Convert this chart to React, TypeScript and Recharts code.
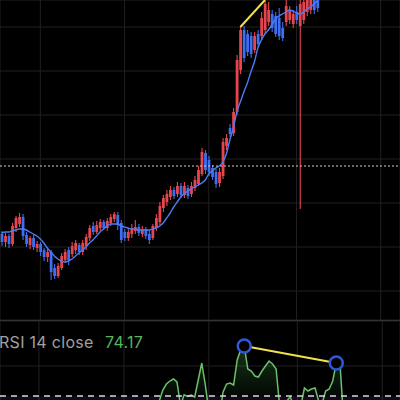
import React from "react"
import {
  ComposedChart, Bar, Line, Area, XAxis, YAxis, CartesianGrid,
  ReferenceLine, ReferenceDot, ReferenceArea,
} from "recharts"

// candle slots across the screen (visible candles + empty space on the right)
const SLOTS = 114

const OPEN = [
  86, 78, 84, 76, 92, 96, 103, 85, 75, 82,
  72, 76, 70, 63, 68, 52, 44, 52, 60, 70,
  66, 70, 75, 68, 74, 82, 94, 88, 92, 98,
  92, 97, 101, 105, 97, 88, 82, 86, 89, 93,
  86, 91, 86, 82, 92, 98, 112, 118, 123, 130,
  126, 134, 125, 132, 126, 132, 136, 146, 167, 160,
  152, 148, 137, 144, 174, 192, 187, 208, 250, 290,
  286, 284, 270, 286, 284, 290, 298, 306, 304, 302,
  292, 298, 300, 296, 308, 294, 300, 308, 310, 324,
  322,
]
const CLOSE = [
  78, 84, 76, 94, 102, 103, 84, 76, 82, 73,
  76, 68, 63, 68, 48, 44, 54, 64, 68, 60,
  74, 77, 68, 77, 83, 92, 88, 95, 98, 92,
  99, 103, 106, 95, 80, 82, 88, 92, 93, 87,
  91, 84, 80, 94, 102, 114, 122, 126, 130, 124,
  134, 125, 134, 124, 134, 140, 150, 168, 150, 148,
  143, 136, 148, 178, 182, 186, 208, 260, 290, 262,
  268, 266, 284, 276, 302, 316, 310, 292, 286, 284,
  282, 314, 310, 306, 300, 316, 318, 322, 324, 310,
  312,
]
const HIGH = [
  89, 87, 86, 97, 104, 107, 106, 88, 84, 85,
  79, 78, 72, 71, 70, 56, 57, 67, 71, 73,
  78, 80, 77, 80, 86, 95, 98, 99, 101, 100,
  102, 106, 108, 108, 100, 91, 92, 96, 100, 96,
  94, 93, 90, 96, 106, 118, 125, 130, 134, 133,
  138, 137, 138, 135, 138, 144, 154, 172, 170, 164,
  155, 151, 152, 182, 186, 196, 212, 265, 294, 294,
  290, 288, 288, 290, 308, 324, 318, 310, 308, 312,
  298, 320, 314, 310, 314, 324, 326, 328, 330, 328,
  326,
]
const LOW = [
  74, 73, 72, 74, 88, 93, 80, 73, 71, 70,
  68, 64, 59, 58, 40, 41, 42, 50, 57, 55,
  63, 66, 65, 65, 70, 79, 85, 86, 89, 90,
  89, 94, 98, 90, 77, 79, 79, 82, 86, 84,
  83, 81, 76, 80, 89, 95, 108, 114, 120, 121,
  123, 122, 122, 121, 123, 129, 134, 144, 146, 144,
  140, 132, 133, 141, 170, 183, 184, 205, 246, 258,
  264, 262, 267, 273, 280, 286, 294, 288, 283, 280,
  279, 294, 296, 292, 296, 111, 296, 304, 306, 306,
  308,
]
const MA = [
  87, 88, 88, 89, 90, 91, 91, 90, 88, 86,
  84, 81, 77, 72, 68, 64, 61, 59, 58, 59,
  61, 64, 67, 70, 73, 77, 80, 84, 88, 91,
  94, 96, 96, 96, 94, 93, 92, 91, 91, 90,
  90, 90, 90, 91, 92, 94, 97, 102, 107, 113,
  118, 123, 126, 129, 131, 133, 135, 137, 140, 146,
  149, 152, 154, 158, 166, 180, 192, 208, 218, 228,
  237, 248, 258, 272, 280, 286, 290, 295, 301, 304,
  306, 308, 310, 309, 307, 306, 308, 311, 313, 316,
  319,
]
const RSI = [
  55, 57, 54, 62, 66, 67, 58, 54, 56, 50,
  52, 47, 44, 47, 36, 34, 39, 45, 48, 44,
  51, 53, 48, 53, 56, 60, 57, 61, 63, 58,
  62, 64, 66, 57, 48, 49, 53, 56, 57, 53,
  56, 51, 49, 58, 63, 68, 72.4, 74.8, 76, 76.8,
  75.6, 66, 70.5, 69.8, 70.4, 69.6, 76.4, 83.2, 74.4, 64,
  60, 56, 62, 71.5, 74.8, 75.2, 74.4, 84.4, 88.4, 90,
  80.8, 80, 78, 77.6, 80, 82, 84, 82.8, 80.8, 66,
  62, 68, 69.6, 66, 64, 66, 73.2, 72, 72.8, 73.2,
  68, 67, 72, 72.8, 76, 83.2, 84, 62,
]

const PRICE_GRID = [29, 73, 117, 161, 205, 249, 293]
const TIME_GRID = [11, 35, 59, 84, 108]
const RSI_GRID = [82]
const LAST_PRICE = 154
const TREND_PRICE = [{ x: 68, y: 293 }, { x: 75, y: 320 }]
const RSI_PEAKS = [{ x: 69, y: 90 }, { x: 95, y: 83.2 }]
const RSI_LAST = "74.17"

const RED = "#e8464f"
const BLUE = "#3f6ff0"
const GRID = "#202020"

const priceData = Array.from({ length: SLOTS }, (_, i) => ({
  i,
  o: OPEN[i] ?? null,
  c: CLOSE[i] ?? null,
  h: HIGH[i] ?? null,
  l: LOW[i] ?? null,
  ma: MA[i] ?? null,
}))

const rsiData = Array.from({ length: SLOTS }, (_, i) => ({
  i,
  rsi: RSI[i] ?? null,
}))

function Candle(props: any) {
  const { x, y, width, height, payload } = props
  if (!payload || payload.h == null) return <g />
  const top = Math.min(y, y + height)
  const span = Math.abs(height)
  const k = span / (payload.h - payload.l || 1)
  const color = payload.c >= payload.o ? RED : BLUE
  const cx = x + width / 2
  const bTop = top + (payload.h - Math.max(payload.o, payload.c)) * k
  const bH = Math.max(1, Math.abs(payload.o - payload.c) * k)
  return (
    <g>
      <line x1={cx} x2={cx} y1={top} y2={top + span} stroke={color} strokeWidth={1.1} />
      <rect x={cx - 1.4} y={bTop} width={2.8} height={bH} fill={color} />
    </g>
  )
}

const labelStyle = {
  position: "absolute" as const,
  top: 334,
  fontFamily: "Inter",
  fontSize: 16,
  lineHeight: "16px",
  letterSpacing: 0.3,
  whiteSpace: "nowrap" as const,
}

export default function App() {
  return (
    <div style={{ position: "fixed", left: 0, top: 0, width: 400, height: 400, overflow: "hidden", background: "#000" }}>
      <ComposedChart
        width={400} height={320} data={priceData}
        margin={{ top: 0, right: 0, bottom: 0, left: 0 }}
        barCategoryGap={0} barGap={0}
      >
        <CartesianGrid stroke={GRID} />
        <XAxis dataKey="i" hide ticks={TIME_GRID} />
        <YAxis hide domain={[0, 320]} allowDataOverflow ticks={PRICE_GRID} />
        <Bar
          dataKey={(d: any) => (d.h == null ? null : [d.l, d.h])}
          shape={<Candle />}
          activeBar={false}
          isAnimationActive={false}
        />
        <Line type="monotone" dataKey="ma" stroke="#4a7df5" strokeWidth={1.4} dot={false} activeDot={false} isAnimationActive={false} />
        <ReferenceLine y={LAST_PRICE} stroke="#d0d0d0" strokeDasharray="2 2" strokeWidth={1} />
        <ReferenceLine segment={TREND_PRICE} stroke="#f2e14c" strokeWidth={2} />
      </ComposedChart>

      <div style={{ position: "absolute", left: 0, top: 320, width: 400, height: 1, background: "#333" }} />

      <div style={{ position: "absolute", left: 0, top: 321 }}>
        <ComposedChart
          width={400} height={250} data={rsiData}
          margin={{ top: 0, right: 0, bottom: 0, left: 0 }}
        >
          <defs>
            <linearGradient id="rsiFill" x1="0" y1="0" x2="0" y2="1">
              <stop offset="0%" stopColor="#4caf50" stopOpacity={0.5} />
              <stop offset="100%" stopColor="#4caf50" stopOpacity={0.08} />
            </linearGradient>
          </defs>
          <CartesianGrid stroke={GRID} />
          <XAxis dataKey="i" hide ticks={TIME_GRID} />
          <YAxis hide domain={[0, 100]} ticks={RSI_GRID} />
          <ReferenceArea y1={30} y2={70} fill="#7e57c2" fillOpacity={0.12} />
          <Area
            type="linear"
            dataKey={(d: any) => (d.rsi == null ? null : [70, Math.max(d.rsi, 70)])}
            stroke="none" fill="url(#rsiFill)" activeDot={false} isAnimationActive={false}
          />
          <Line type="linear" dataKey="rsi" stroke="#6cc06c" strokeWidth={1.5} dot={false} activeDot={false} isAnimationActive={false} />
          <ReferenceLine y={70} stroke="#d8d8d8" strokeDasharray="6 5" strokeWidth={1.5} />
          <ReferenceLine segment={RSI_PEAKS} stroke="#f2e14c" strokeWidth={2} />
          {RSI_PEAKS.map((p) => (
            <ReferenceDot key={p.x} x={p.x} y={p.y} r={6.5} fill="#000" stroke="#2f56d8" strokeWidth={2.5} />
          ))}
        </ComposedChart>
      </div>

      <div style={{ ...labelStyle, left: -1, color: "#a0a0a0" }}>RSI 14 close</div>
      <div style={{ ...labelStyle, left: 105, color: "#57b65a" }}>{RSI_LAST}</div>
    </div>
  )
}
